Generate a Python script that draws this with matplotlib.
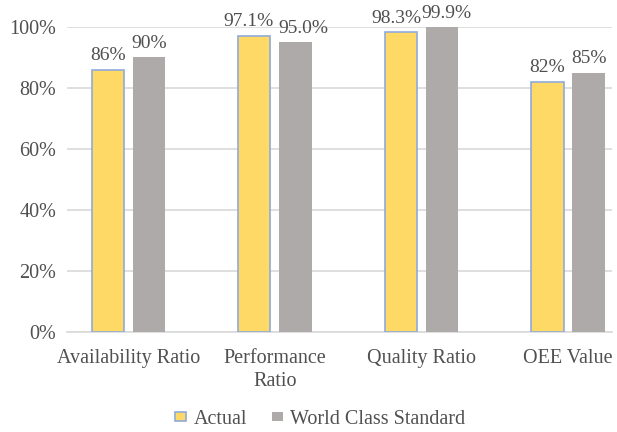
import matplotlib.pyplot as plt
import numpy as np

plt.rcParams['font.family'] = ['Liberation Serif', 'DejaVu Serif']

categories = ['Availability Ratio', 'Performance\nRatio', 'Quality Ratio', 'OEE Value']
actual = [86, 97.1, 98.3, 82]
world_class = [90, 95.0, 99.9, 85]
actual_labels = ['86%', '97.1%', '98.3%', '82%']
world_labels = ['90%', '95.0%', '99.9%', '85%']

txt = '#505050'
fs = 14.5
fig = plt.figure(figsize=(6.17, 4.32), dpi=100)
ax = fig.add_axes([0.109, 0.2315, 0.883, 0.706])

x = np.arange(len(categories))
w = 0.22
b1 = ax.bar(x - 0.14, actual, w, color='#FFD966', edgecolor='#8FAADC', linewidth=1.2,
            label='Actual', zorder=3)
b2 = ax.bar(x + 0.14, world_class, w, color='#AEAAAA', label='World Class Standard', zorder=3)

# labels near the top get pushed apart a little, like Excel does
nudge_a = [0, -4, -3, 0]
nudge_w = [0, 6, 3, 0]
for bars, labels, nudge in [(b1, actual_labels, nudge_a), (b2, world_labels, nudge_w)]:
    for r, lab, dx in zip(bars, labels, nudge):
        ax.annotate(lab, (r.get_x() + r.get_width() / 2, r.get_height()),
                    xytext=(dx, 4), textcoords='offset points', ha='center', va='bottom',
                    fontsize=14, color=txt)

ax.set_ylim(0, 100)
ax.set_xlim(-0.416, 3.30)
ax.set_yticks(range(0, 101, 20))
ax.set_yticklabels([f'{v}%' for v in range(0, 101, 20)])
ax.set_xticks(x)
ax.set_xticklabels(categories, linespacing=1.3)
ax.tick_params(axis='both', length=0, labelsize=fs, labelcolor=txt)
ax.tick_params(axis='x', pad=12)
ax.tick_params(axis='y', pad=8)
ax.yaxis.grid(True, color='#D9D9D9', linewidth=1.2, zorder=0)
for s in ['top', 'right', 'left']:
    ax.spines[s].set_visible(False)
ax.spines['bottom'].set_color('#D9D9D9')
ax.spines['bottom'].set_linewidth(1.2)

fig.legend(loc='center', bbox_to_anchor=(0.519, 0.03), ncol=2, frameon=False,
           fontsize=fs, labelcolor=txt, handlelength=0.55, handleheight=0.3,
           handletextpad=0.35, columnspacing=1.25)

fig.savefig('out.png', dpi=100)
